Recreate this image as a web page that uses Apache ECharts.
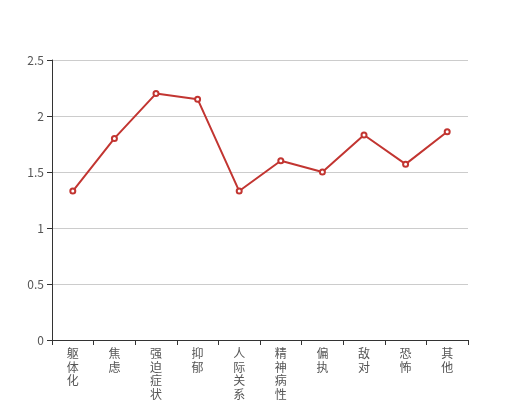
<!DOCTYPE html>
<html><head><meta charset="utf-8">
<script src="https://cdn.jsdelivr.net/npm/echarts@6/dist/echarts.min.js"></script>
<style>html,body{margin:0;padding:0;background:#fff}#c{width:520px;height:400px}</style>
</head><body><div id="c"></div>
<script>
const categories = ['躯体化','焦虑','强迫症状','抑郁','人际关系敏感','精神病性','偏执','敌对','恐怖','其他'];
const values = [1.33, 1.80, 2.20, 2.15, 1.33, 1.60, 1.50, 1.83, 1.57, 1.86];
const yTicks = [0, 0.5, 1, 1.5, 2, 2.5];

const chart = echarts.init(document.getElementById('c'), null, {renderer:'canvas'});
chart.setOption({
  animation:false,
  textStyle:{fontFamily:'"Noto Sans CJK SC", sans-serif'},
  grid:{left:52,right:52,top:60,bottom:60,containLabel:false,outerBoundsMode:'none'},
  xAxis:{
    type:'category', data:categories, boundaryGap:true,
    axisLine:{lineStyle:{color:'#333'}},
    axisTick:{show:true, length:5, lineStyle:{color:'#333'}},
    axisLabel:{color:'#555', fontSize:12, interval:0, lineHeight:13.5, margin:7,
      formatter: v => v.split('').join('\n')}
  },
  yAxis:{
    type:'value', min:yTicks[0], max:yTicks[yTicks.length-1], interval:0.5,
    axisLine:{show:true, lineStyle:{color:'#333'}},
    axisTick:{show:true, lineStyle:{color:'#333'}},
    axisLabel:{color:'#555', fontSize:12},
    splitLine:{lineStyle:{color:'#ccc'}}
  },
  series:[{
    type:'line', data:values, symbol:'emptyCircle', symbolSize:5,
    itemStyle:{color:'#c23531'}, lineStyle:{color:'#c23531', width:2}
  }]
});
</script></body></html>
